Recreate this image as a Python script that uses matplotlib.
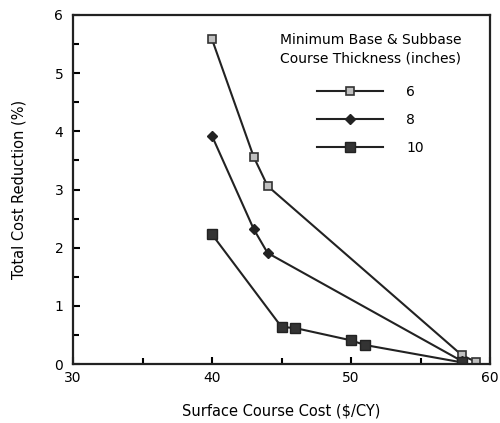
import matplotlib.pyplot as plt
import matplotlib.ticker as ticker

plt.rcParams['font.family'] = ['DejaVu Sans']

# surface course cost ($/CY) and total cost reduction (%)
x6 = [40, 43, 44, 58, 59]
y6 = [5.58, 3.56, 3.06, 0.15, 0.04]
x8 = [40, 43, 44, 58]
y8 = [3.92, 2.32, 1.91, 0.05]
x10 = [40, 45, 46, 50, 51, 58]
y10 = [2.23, 0.64, 0.62, 0.41, 0.33, 0.03]
labels = ["6", "8", "10"]

fig = plt.figure(figsize=(5, 4.23), dpi=100)
ax = fig.add_axes([0.146, 0.139, 0.834, 0.826])

ax.plot(x6, y6, color="#222222", lw=1.5, marker="s", ms=6,
        mfc="#c0c0c0", mec="#333333", mew=1.2, label=labels[0])
ax.plot(x8, y8, color="#222222", lw=1.5, marker="D", ms=5,
        mfc="#222222", mec="#222222", label=labels[1])
ax.plot(x10, y10, color="#222222", lw=1.5, marker="s", ms=7,
        mfc="#333333", mec="#222222", label=labels[2])

ax.set_xlim(30, 60)
ax.set_ylim(0, 6)
ax.xaxis.set_major_locator(ticker.MultipleLocator(10))
ax.xaxis.set_minor_locator(ticker.MultipleLocator(5))
ax.yaxis.set_major_locator(ticker.MultipleLocator(1))
ax.yaxis.set_minor_locator(ticker.MultipleLocator(0.5))
ax.tick_params(which="both", direction="in", width=1.5, labelsize=10)
ax.tick_params(which="major", length=5)
ax.tick_params(which="minor", length=4)
ax.tick_params(axis="x", pad=5)
ax.tick_params(axis="y", pad=7)
for s in ax.spines.values():
    s.set_linewidth(1.6)
    s.set_color("#222222")

ax.set_xlabel("Surface Course Cost ($/CY)", fontsize=10.5, labelpad=13)
ax.set_ylabel("Total Cost Reduction (%)", fontsize=10.5, labelpad=20)

leg = ax.legend(title="Minimum Base & Subbase\nCourse Thickness (inches)",
                frameon=False, loc="upper center", bbox_to_anchor=(0.714, 0.984),
                fontsize=10, title_fontsize=10, handlelength=4.7,
                handletextpad=1.7, labelspacing=1.0)
leg.get_title().set_linespacing(1.45)
leg._legend_box.align = "center"
leg._legend_box.sep = 14

fig.savefig("out.png")
